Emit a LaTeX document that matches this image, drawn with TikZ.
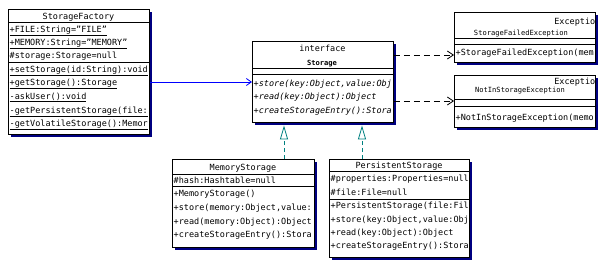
\documentclass[tikz,border=0pt]{standalone}
\usepackage{fontspec}
\setmainfont{DejaVu Sans Mono}[ItalicFont={DejaVu Sans Mono Oblique},BoldFont={DejaVu Sans Mono Bold}]
\usetikzlibrary{arrows.meta,shadows}
\definecolor{navyshadow}{RGB}{0,0,128}
\definecolor{tealline}{RGB}{0,128,128}
\definecolor{bluearrow}{RGB}{0,0,255}
\tikzset{
  umlbox/.style={draw=black, fill=white, line width=0.9pt, anchor=north west, inner sep=0pt,
    drop shadow={shadow xshift=2.5pt, shadow yshift=-2.5pt, fill=navyshadow, opacity=1}},
  divider/.style={draw=black, line width=0.8pt},
  txt/.style={anchor=base west, inner sep=0pt, font=\fontsize{8.5}{10}\selectfont},
  ttl/.style={anchor=base, inner sep=0pt, font=\fontsize{8.5}{10}\selectfont},
  smallttl/.style={anchor=base, inner sep=0pt, font=\fontsize{7.1}{8}\selectfont},
  assoc/.style={draw=bluearrow, line width=0.8pt, -{Straight Barb[length=5pt,width=7pt]}},
  dep/.style={draw=black, line width=0.8pt, dash pattern=on 6pt off 4pt, -{Straight Barb[length=6pt,width=8pt]}},
  realize/.style={draw=tealline, line width=0.8pt, dash pattern=on 4.5pt off 2.5pt,
    -{Triangle[open, length=14pt, width=8pt, fill=white]}},
}
\begin{document}
\begin{tikzpicture}[x=1pt,y=-1pt]
\useasboundingbox (0,0) rectangle (605,268);

% StorageFactory
\node[umlbox, minimum width=141pt, minimum height=125pt] (factory) at (8,9) {};
\node[ttl] (fT) at (78.5,19.5) {StorageFactory};
\draw[divider] (8,22) -- (149,22);
\node[txt] (f1) at (9.5,32) {\underline{+FILE:String="FILE"}};
\node[txt] (f2) at (9.5,45) {\underline{+MEMORY:String="MEMORY"}};
\node[txt] (f3) at (9.5,58.5) {\underline{\#storage:Storage=null}};
\draw[divider] (8,62) -- (149,62);
\node[txt] (f4) at (9.5,72) {\underline{+setStorage(id:String):void}};
\node[txt] (f5) at (9.5,85) {\underline{+getStorage():Storage}};
\node[txt] (f6) at (9.5,99) {\underline{-askUser():void}};
\node[txt] (f7) at (9.5,113) {\underline{-getPersistentStorage(file:}};
\node[txt] (f8) at (9.5,126) {\underline{-getVolatileStorage():Memor}};

% Storage interface
\node[umlbox, minimum width=141pt, minimum height=81pt] (storage) at (252,41) {};
\node[ttl] (sT1) at (322.5,51) {interface};
\node[smallttl, font=\fontsize{7.1}{8}\selectfont\bfseries] (sT2) at (322,65) {Storage};
\draw[divider] (252,68) -- (393,68);
\draw[divider] (252,74) -- (393,74);
\node[txt, font=\fontsize{8.5}{10}\selectfont\itshape] (s1) at (253.5,86) {+store(key:Object,value:Obj};
\node[txt, font=\fontsize{8.5}{10}\selectfont\itshape] (s2) at (253.5,99.5) {+read(key:Object):Object};
\node[txt, font=\fontsize{8.5}{10}\selectfont\itshape] (s3) at (253.5,113) {+createStorageEntry():Stora};

% StorageFailedException
\node[umlbox, minimum width=141pt, minimum height=50pt] (sfe) at (454,12) {};
\node[txt, anchor=base east] (sfeE) at (595.5,24) {Exceptio};
\node[smallttl] (sfeT) at (521,35) {StorageFailedException};
\draw[divider] (454,38) -- (595,38);
\draw[divider] (454,44) -- (595,44);
\node[txt] (sfe1) at (455.5,55) {+StorageFailedException(mem};

% NotInStorageException
\node[umlbox, minimum width=141pt, minimum height=52pt] (nis) at (454,75) {};
\node[txt, anchor=base east] (nisE) at (595.5,84) {Exceptio};
\node[smallttl] (nisT) at (520,92) {NotInStorageException};
\draw[divider] (454,99) -- (595,99);
\draw[divider] (454,106) -- (595,106);
\node[txt] (nis1) at (455.5,120) {+NotInStorageException(memo};

% MemoryStorage
\node[umlbox, minimum width=142pt, minimum height=88pt] (mem) at (172,159) {};
\node[ttl] (mT) at (243,170) {MemoryStorage};
\draw[divider] (172,174.5) -- (314,174.5);
\node[txt] (m1) at (173.5,183) {\#hash:Hashtable=null};
\draw[divider] (172,186) -- (314,186);
\node[txt] (m2) at (173.5,196) {+MemoryStorage()};
\node[txt] (m3) at (173.5,210) {+store(memory:Object,value:};
\node[txt] (m4) at (173.5,224) {+read(memory:Object):Object};
\node[txt] (m5) at (173.5,237.5) {+createStorageEntry():Stora};

% PersistentStorage
\node[umlbox, minimum width=140pt, minimum height=98pt] (pers) at (329,159) {};
\node[ttl] (pT) at (399,168.5) {PersistentStorage};
\draw[divider] (329,171.5) -- (469,171.5);
\node[txt] (p1) at (330.5,181) {\#properties:Properties=null};
\node[txt] (p2) at (330.5,195) {\#file:File=null};
\draw[divider] (329,199) -- (469,199);
\node[txt] (p3) at (330.5,208.5) {+PersistentStorage(file:Fil};
\node[txt] (p4) at (330.5,222) {+store(key:Object,value:Obj};
\node[txt] (p5) at (330.5,235.5) {+read(key:Object):Object};
\node[txt] (p6) at (330.5,248.5) {+createStorageEntry():Stora};

% connectors
\draw[assoc] ([yshift=-73pt]factory.north east) -- ([yshift=-41pt]storage.north west);
\draw[dep] ([yshift=-14pt]storage.north east) -- ([yshift=-43pt]sfe.north west);
\draw[dep] ([yshift=-60pt]storage.north east) -- ([yshift=-26pt]nis.north west);
\draw[realize] ([xshift=112pt]mem.north west) -- ([xshift=32pt,yshift=-2.5pt]storage.south west);
\draw[realize] ([xshift=33pt]pers.north west) -- ([xshift=110pt,yshift=-2.5pt]storage.south west);
\end{tikzpicture}
\end{document}
